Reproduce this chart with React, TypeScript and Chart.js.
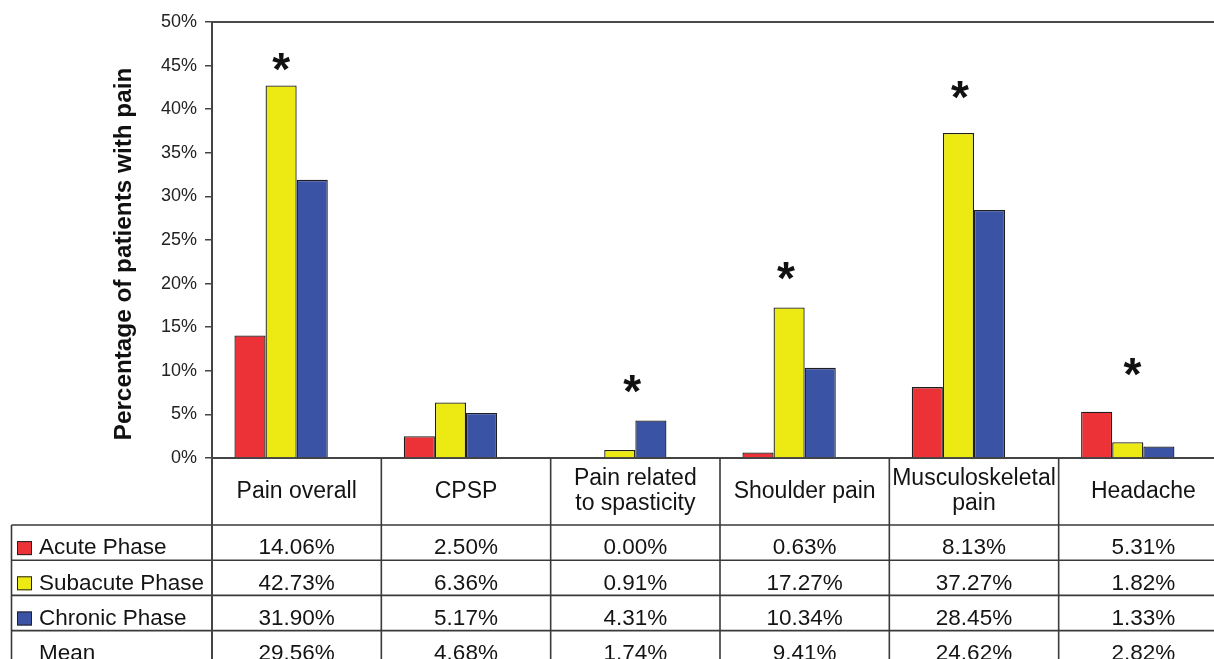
import React, { useEffect, useRef } from 'react';
import { Chart, registerables } from 'chart.js';

Chart.register(...registerables);

// ---------- data ----------
const categories: string[][] = [
  ['Pain overall'],
  ['CPSP'],
  ['Pain related', 'to spasticity'],
  ['Shoulder pain'],
  ['Musculoskeletal', 'pain'],
  ['Headache'],
];
const seriesNames = ['Acute Phase', 'Subacute Phase', 'Chronic Phase'];
const acutePhase = [14.06, 2.5, 0.0, 0.63, 8.13, 5.31];
const subacutePhase = [42.73, 6.36, 0.91, 17.27, 37.27, 1.82];
const chronicPhase = [31.9, 5.17, 4.31, 10.34, 28.45, 1.33];
const meanRow = [29.56, 4.68, 1.74, 9.41, 24.62, 2.82];
const meanLabel = 'Mean';
const yTickMin = 0;
const yTickMax = 50;
const yTickStep = 5;
const yTitle = 'Percentage of patients with pain';
// significance markers: level (in %) at which the asterisk sits, null = none
const significanceLevels: (number | null)[] = [45.4, null, 8.5, 21.4, 42.2, 10.4];

const seriesColors = ['#EC3237', '#EDE913', '#3A53A4'];

const FONT = '"Liberation Sans", Arial, sans-serif';

const tablePlugin = {
  id: 'dataTableAndMarks',
  afterDraw(chart: any) {
    const ctx: CanvasRenderingContext2D = chart.ctx;
    const xs = chart.scales.x;
    const ys = chart.scales.y;
    const { left, right, top, bottom } = chart.chartArea;
    const n = categories.length;
    const catW = (right - left) / n;
    const headerBottom = bottom + 67;
    const rowH = 35.2;
    const tableLeft = 11.5;
    const rowsCount = 4;
    const tableBottom = headerBottom + rowH * rowsCount;
    const lineColor = '#3a3a3a';

    ctx.save();
    // plot-area top border
    ctx.strokeStyle = '#4a4a4a';
    ctx.lineWidth = 2;
    ctx.beginPath();
    ctx.moveTo(left, top);
    ctx.lineTo(right, top);
    ctx.stroke();

    // table grid
    ctx.strokeStyle = lineColor;
    ctx.lineWidth = 1.6;
    ctx.beginPath();
    for (let i = 0; i <= n; i++) {
      const x = i < n ? xs.getPixelForValue(i) - catW / 2 : xs.getPixelForValue(n - 1) + catW / 2;
      ctx.moveTo(x, bottom);
      ctx.lineTo(x, tableBottom + 20);
    }
    ctx.moveTo(tableLeft, headerBottom);
    ctx.lineTo(tableLeft, tableBottom + 20);
    for (let r = 0; r <= rowsCount; r++) {
      const y = headerBottom + r * rowH;
      ctx.moveTo(tableLeft, y);
      ctx.lineTo(right, y);
    }
    ctx.stroke();

    // header text
    ctx.fillStyle = '#141414';
    ctx.textAlign = 'center';
    ctx.textBaseline = 'middle';
    ctx.font = `23px ${FONT}`;
    const headerMid = (bottom + headerBottom) / 2;
    categories.forEach((lines, i) => {
      const cx = xs.getPixelForValue(i);
      const lh = 25;
      const y0 = headerMid - ((lines.length - 1) * lh) / 2;
      lines.forEach((t, k) => ctx.fillText(t, cx, y0 + k * lh));
    });

    // body rows
    const rows = [
      { name: seriesNames[0], color: seriesColors[0], values: acutePhase },
      { name: seriesNames[1], color: seriesColors[1], values: subacutePhase },
      { name: seriesNames[2], color: seriesColors[2], values: chronicPhase },
      { name: meanLabel, color: null as string | null, values: meanRow },
    ];
    ctx.font = `22.5px ${FONT}`;
    rows.forEach((row, r) => {
      const cy = headerBottom + r * rowH + rowH / 2 + 5.5;
      if (row.color) {
        ctx.fillStyle = row.color;
        ctx.fillRect(17, cy - 7, 15, 14);
        ctx.strokeStyle = '#222';
        ctx.lineWidth = 1;
        ctx.strokeRect(17.5, cy - 6.5, 14, 13);
      }
      ctx.fillStyle = '#141414';
      ctx.textAlign = 'left';
      ctx.fillText(row.name, 39, cy);
      ctx.textAlign = 'center';
      row.values.forEach((v, i) => {
        ctx.fillText(v.toFixed(2) + '%', xs.getPixelForValue(i), cy);
      });
    });

    // y-axis title
    ctx.save();
    ctx.translate(124, 254);
    ctx.rotate(-Math.PI / 2);
    ctx.font = `bold 24.3px ${FONT}`;
    ctx.textAlign = 'center';
    ctx.textBaseline = 'middle';
    ctx.fillStyle = '#111';
    ctx.fillText(yTitle, 0, 0);
    ctx.restore();

    // significance asterisks, placed over the subacute bar
    const yellowMeta = chart.getDatasetMeta(1);
    const blueMeta = chart.getDatasetMeta(2);
    const starShift = [0, 0, 0.4, -0.1, 0.05, 0.15];
    ctx.font = `bold 46px ${FONT}`;
    ctx.textAlign = 'center';
    ctx.textBaseline = 'alphabetic';
    const m = ctx.measureText('*');
    const asc = m.actualBoundingBoxAscent;
    const desc = m.actualBoundingBoxDescent;
    ctx.fillStyle = '#111';
    significanceLevels.forEach((lvl, i) => {
      if (lvl == null) return;
      const bx = yellowMeta.data[i].x;
      const step = blueMeta.data[i].x - bx;
      const x = bx + starShift[i] * step;
      const cy = ys.getPixelForValue(lvl);
      ctx.fillText('*', x, cy + (asc - desc) / 2);
    });

    // extend the y axis line down through the table
    ctx.strokeStyle = '#444';
    ctx.lineWidth = 2;
    ctx.beginPath();
    ctx.moveTo(left, bottom);
    ctx.lineTo(left, tableBottom + 20);
    ctx.stroke();
    ctx.restore();
  },
};

export default function App() {
  const ref = useRef<HTMLCanvasElement | null>(null);

  useEffect(() => {
    if (!ref.current) return;
    const yTicks: number[] = [];
    for (let v = yTickMin; v <= yTickMax; v += yTickStep) yTicks.push(v);

    const chart = new Chart(ref.current, {
      type: 'bar',
      data: {
        labels: categories,
        datasets: [
          { label: seriesNames[0], data: acutePhase, backgroundColor: seriesColors[0], borderColor: '#1e1e1e', borderWidth: 1.3 },
          { label: seriesNames[1], data: subacutePhase, backgroundColor: seriesColors[1], borderColor: '#1e1e1e', borderWidth: 1.3 },
          { label: seriesNames[2], data: chronicPhase, backgroundColor: seriesColors[2], borderColor: '#1e1e1e', borderWidth: 1.3 },
          // empty slot: Excel-like group offset within each category
          { label: '', data: categories.map(() => null), backgroundColor: 'rgba(0,0,0,0)', borderWidth: 0 },
        ],
      },
      options: {
        responsive: false,
        animation: false,
        devicePixelRatio: 1,
        layout: { padding: { left: 0, top: 22, right: 12, bottom: 222 } },
        plugins: { legend: { display: false }, tooltip: { enabled: false }, title: { display: false } },
        datasets: { bar: { categoryPercentage: 0.735, barPercentage: 1 } },
        scales: {
          x: {
            grid: { display: false, drawTicks: false },
            ticks: { display: false },
            border: { display: true, color: '#444', width: 2 },
            afterFit: (s: any) => {
              s.height = 0;
            },
          },
          y: {
            min: yTickMin,
            max: yTickMax,
            afterBuildTicks: (s: any) => {
              s.ticks = yTicks.map((v) => ({ value: v }));
            },
            ticks: {
              callback: (v: any) => `${v}%`,
              font: { family: FONT, size: 18 },
              color: '#222',
              padding: 8,
            },
            grid: { drawOnChartArea: false, drawTicks: true, tickLength: 7, color: '#444', lineWidth: 1.5 },
            border: { color: '#444', width: 2 },
            afterFit: (s: any) => {
              s.width = 212;
            },
          },
        },
      },
      plugins: [tablePlugin],
    } as any);
    return () => chart.destroy();
  }, []);

  return (
    <div
      style={{
        position: 'fixed',
        left: 0,
        top: 0,
        width: 1214,
        height: 659,
        overflow: 'hidden',
        background: '#fff',
      }}
    >
      <canvas ref={ref} width={1240} height={680} style={{ display: 'block' }} />
    </div>
  );
}
